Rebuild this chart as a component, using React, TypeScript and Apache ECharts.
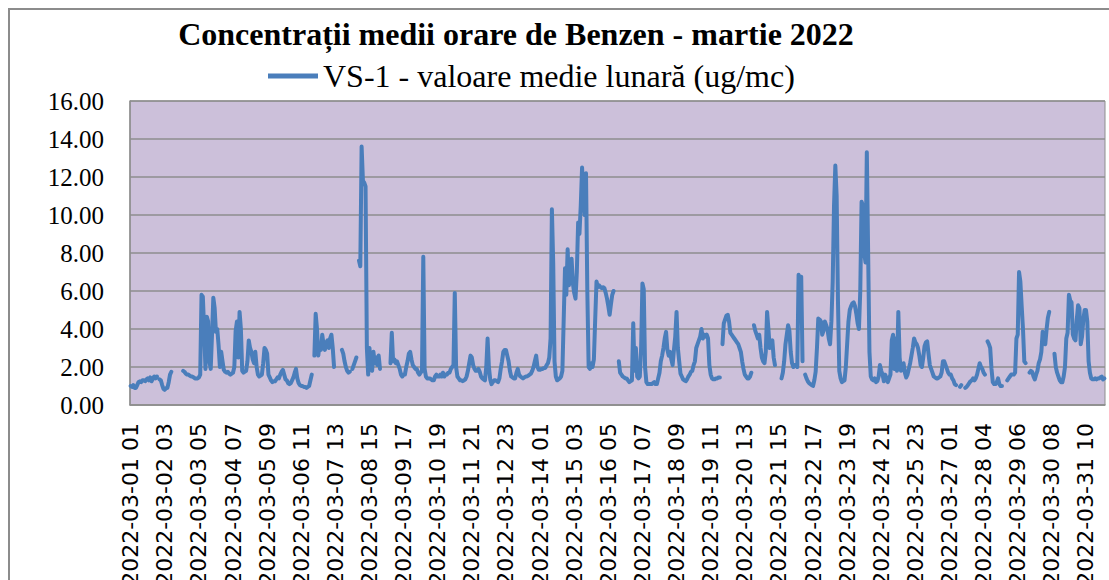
import React, { useEffect, useRef } from "react";
import * as echarts from "echarts";

const TITLE = "Concentrații medii orare de Benzen - martie 2022";
const SERIES_NAME = "VS-1 - valoare medie lunară (ug/mc)";

// Hourly values (ug/mc), 2022-03-01 01 .. 2022-04-01 00 (03-27 03 skipped, DST)
const week1: (number | null)[] = [
  1.0, 0.95, 1.05, 0.9, 0.9, 1.05, 1.2, 1.25, 1.2, 1.3, 1.3, 1.25, 1.35, 1.4, 1.3, 1.45, 1.25, 1.4, 1.5, 1.4, 1.5,
  null, 1.35, 1.3,
  1.05, 0.85, 0.8, 0.88, 0.9, 1.2, 1.6, 1.75,
  null, null, null, null, null, null, null, null,
  1.8, 1.75, 1.65, 1.6, 1.6, 1.55, 1.5, 1.5, 1.45, 1.4, 1.4, 1.4, 1.45, 1.6,
  5.8, 5.7, 4.0, 1.9, 4.65, 4.4, 2.3, 1.9, 3.7, 5.65, 5.1, 3.85, 4.0, 3.15, 2.0, 2.8, 2.3, 1.85, 1.75, 1.7, 1.75,
  1.65, 1.6, 1.65, 1.7, 2.0, 3.9, 4.4, 2.5, 4.9, 4.0, 1.8, 1.7, 1.75, 1.8, 2.3, 3.4, 3.0, 2.8, 2.4, 2.2, 2.8, 2.0, 1.6, 1.5, 1.55,
  1.6, 2.2, 3.0, 2.9, 2.7, 1.6, 1.45, 1.3, 1.2, 1.25, 1.25, 1.35, 1.45, 1.4, 1.6, 1.75, 1.85, 1.6, 1.35, 1.3,
  1.15, 1.1, 1.15, 1.3, 1.45, 1.7, 1.9, 1.4, 1.15, 1.05, 1.0, 1.0, 0.95, 0.95, 0.9, 0.95, 1.0, 1.3, 1.6,
  null,
  2.6, 4.8, 4.0, 2.6, 3.2, 2.9, 3.7, 3.2, 2.9, 3.3, 3.4, 3.0, 3.5, 3.7, 3.0, 2.0,
  null, null, null, null, null,
  2.9, 2.7, 2.3, 2.0, 1.8, 1.7, 1.75,
];

const week2: (number | null)[] = [
  null, 1.9, 2.1, 2.3, 2.5, null,
  7.6, 7.3, 13.6, 11.8, 11.7, 11.5,
  3.0, 1.6, 3.0, 2.0, 1.8, 2.8, 2.2, 2.5, 2.1, 2.6, 1.9,
  null, null, null, null, null, null, null,
  2.2, 3.8, 2.3, 2.4, 2.2, 2.3, 2.1, 1.9, 1.6, 1.5, 1.6, 1.6, 2.0, 2.3, 2.7, 2.8, 2.4, 2.1, 2.0, 1.9,
  1.9, 1.7, 1.6, 1.7, 1.8, 7.8, 1.9, 1.5, 1.4, 1.4, 1.4, 1.35, 1.3, 1.3, 1.5, 1.6, 1.5, 1.5, 1.6, 1.5,
  1.7, 1.5, 1.6, 1.6, 1.7, 1.7, 1.9, 2.0, 2.1, 5.9, 2.0, 1.5, 1.4, 1.3, 1.3, 1.25, 1.3, 1.35, 1.5, 1.8,
  2.2, 2.6, 2.5, 2.1, 1.9, 1.8, 1.8,
  1.9, 1.75, 1.5, 1.4, 1.35, 1.3, 2.0, 3.5, 2.0, 1.35, 1.1, 1.2, 1.3, 1.3, 1.25, 1.2, 1.4, 1.9, 2.3, 2.8,
  2.9, 2.9, 2.6, 2.3, 1.8, 1.5, 1.45, 1.4, 1.4, 1.7, 1.9, 1.6, 1.5, 1.45, 1.4, 1.45, 1.5, 1.5, 1.55, 1.6,
  1.65, 1.8, 2.0, 2.3, 2.6, 2.0, 1.85, 1.85, 1.9, 1.9, 1.95, 1.95, 2.1, 2.2, 2.5, 3.5, 10.3, 7.5, 2.3, 1.5,
  1.3, 1.35, 1.4, 1.5, 1.8, 4.5, 7.2, 5.8, 8.2, 6.3, 7.0,
];

const week3: (number | null)[] = [
  7.7, 6.4, 5.9, 5.6, 7.0, 9.6, 9.0, 10.5, 12.5, 11.0, 10.0, 12.2, 6.0, 2.0, 1.9, 2.2, 2.0, 2.4, 4.5, 6.5,
  6.2, 6.3, 6.2, 6.15, 6.2,
  6.15, 5.9, 5.6, 5.2, 4.75, 5.3, 5.8, 6.0, null, null, null, 2.3, 1.7, 1.6, 1.5, 1.45, 1.4, 1.4, 1.3, 1.2,
  1.25, 1.3, 4.3, 1.8, 3.0, 1.5, 1.4, 1.5, 3.0, 6.4, 6.1, 2.0, 1.2, 1.1, 1.1, 1.1, 1.1, 1.15, 1.2, 1.1,
  1.1, 1.4, 1.7, 2.3, 2.6, 3.0, 3.5, 3.85, 2.9, 2.6, 2.8, 2.4, 2.1, 2.9, 3.6, 4.9, 3.0, 2.3, 1.65, 1.5,
  1.35, 1.3, 1.25, 1.35, 1.5, 1.6, 1.75, 1.8, 2.1, 2.3, 3.0, 3.2, 3.4, 3.6, 4.0, 3.5, 3.7, 3.6, 3.7, 3.5,
  2.1, 1.6, 1.4, 1.35, 1.35, 1.4, 1.4, 1.45, 1.45, null, 3.2, 4.3, 4.5, 4.7, 4.75, 4.4,
  3.8, 3.7, 3.6, 3.5, 3.4, 3.3, 3.2, 3.0, 2.8, 2.3, 1.9, 1.6, 1.5, 1.4, 1.4, 1.5, 1.7, null,
  4.2, 3.9, 3.7, 3.5, 3.7, 3.0, 2.5, 2.3, 2.2, 2.8, 4.9, 4.0, 3.0, 3.3, 3.4, 2.5, 2.1,
  null, null, null, null,
  1.4, 1.7, 2.3, 3.2, 3.7, 4.2, 3.9, 2.8,
];

const week4: (number | null)[] = [
  2.2, 2.0, 2.1, 2.1, 2.0, 6.85, 6.7, 6.75, 2.3, null,
  1.6, 1.4, 1.25, 1.15, 1.1, 1.05, 1.0, 1.3, 1.75, 3.0, 4.55, 4.5, 4.4, 3.7, 3.9, 4.4, 4.2, 4.0, 3.5, 3.2,
  4.4, 6.5, 10.5, 12.6, 11.0, 5.5, 1.8, 1.4, 1.2, 1.25, 1.3, 2.0, 3.2, 4.4, 5.0, 5.2, 5.35,
  5.4, 5.2, 4.8, 4.3, 4.0, 6.0, 10.7, 10.5, 8.0, 7.5, 13.3, 8.0, 2.8, 1.5, 1.35, 1.3, 1.4, 1.2, 1.25, 1.5,
  2.1, 1.8, 1.6, 1.25, 1.6, 1.4, 1.2, 1.4, 1.6, 3.4, 3.7, 1.9, 3.5, 1.8, 4.9, 2.5, 1.8, 1.9, 2.2, 1.7,
  1.45, 1.6, 1.9, 2.2, 2.6, 3.0, 3.5, 3.3, 3.2, 3.0, 2.6, 2.1, 2.0, 2.5, 3.1, 3.3, 3.35, 2.7, 2.1, 1.9,
  1.7, 1.5, 1.45, 1.4, 1.4, 1.45, 1.5, 1.7, 2.3, 2.3, 2.1, 1.9, 1.7, 1.6, 1.6, 1.4, 1.3, 1.1, 1.05, null,
  null, 0.95, 1.05, null, null, 0.9, 0.95, 1.05, 1.15, 1.25, 1.3, 1.4, 1.3, 1.4, 1.6, 1.9,
  2.2, 2.0, 1.9, 1.7, 1.6, null, 3.35, 3.2, 3.0, 1.9, 1.2, 1.1, 1.1, 1.2, 1.4, 1.1, 1.0, 1.0,
  null, null, null, 1.3, 1.4, 1.5, 1.6,
];

const week5: (number | null)[] = [
  1.6, 1.6, 1.7, 3.5, 3.7, 7.0, 6.5, 5.2, 4.0, 2.3, 2.2, null, null,
  1.7, 1.8, 1.75, 1.5, 1.35, 1.6, 1.8, 2.2, 2.4, 2.8, 3.85, 3.5, 3.2, 4.0, 4.6, 4.9, null, null, null,
  2.7, 2.0, 1.7, 1.5, 1.3, 1.2, 1.2, 1.5, 2.0, 3.5, 3.8, 5.8, 5.5, 5.4, 3.7, 3.5, 3.4, 4.5, 5.25, 5.1,
  3.2, 3.6, 4.5, 5.0, 5.0, 4.4, 2.3, 1.7, 1.4, 1.35, 1.35, 1.4, 1.35, 1.4, 1.4, 1.45, 1.5, 1.35, 1.4,
];

const values = [...week1, ...week2, ...week3, ...week4, ...week5];

// Category labels: hourly timestamps (hour 03 of 2022-03-27 does not exist)
const categories: string[] = [];
{
  const start = Date.UTC(2022, 2, 1, 1);
  const p = (n: number) => String(n).padStart(2, "0");
  for (let k = 0; categories.length < values.length; k++) {
    const d = new Date(start + k * 3600000);
    const mon = d.getUTCMonth() + 1;
    const day = d.getUTCDate();
    const hr = d.getUTCHours();
    if (mon === 3 && day === 27 && hr === 3) continue;
    categories.push(`2022-${p(mon)}-${p(day)} ${p(hr)}`);
  }
}

const Y_MIN = 0;
const Y_MAX = 16;
const Y_STEP = 2;

export default function App() {
  const ref = useRef<HTMLDivElement>(null);
  useEffect(() => {
    document.body.style.margin = "0";
    if (!ref.current) return;
    const chart = echarts.init(ref.current, undefined, { renderer: "svg" });
    chart.setOption({
      animation: false,
      backgroundColor: "#ffffff",
      title: {
        text: TITLE,
        left: 511,
        top: 13,
        textAlign: "center",
        textStyle: {
          fontFamily: "Liberation Serif",
          fontWeight: "bold",
          fontSize: 32,
          color: "#000000",
        },
      },
      legend: {
        left: 263,
        top: 55,
        itemWidth: 50,
        itemHeight: 5,
        icon: "rect",
        data: [SERIES_NAME],
        textStyle: { fontFamily: "Liberation Serif", fontSize: 32, color: "#000000" },
      },
      grid: {
        left: 130,
        right: 4,
        top: 101,
        bottom: 175,
        outerBoundsMode: "none",
        containLabel: false,
        show: true,
        backgroundColor: "#CCC0DA",
        borderColor: "#8E8E8E",
        borderWidth: 1,
      },
      xAxis: {
        type: "category",
        data: categories,
        boundaryGap: true,
        axisLine: { lineStyle: { color: "#8E8E8E", width: 1.5 } },
        axisTick: { show: false },
        axisLabel: {
          interval: 25,
          rotate: 90,
          fontFamily: "DejaVu Sans",
          fontSize: 22,
          color: "#000000",
          margin: 18,
        },
      },
      yAxis: {
        type: "value",
        min: Y_MIN,
        max: Y_MAX,
        interval: Y_STEP,
        axisLine: { show: true, lineStyle: { color: "#8E8E8E", width: 1.5 } },
        axisTick: { show: false },
        axisLabel: {
          formatter: (v: number) => v.toFixed(2),
          fontFamily: "Liberation Serif",
          fontSize: 25,
          color: "#000000",
          margin: 26,
        },
        splitLine: { lineStyle: { color: "#8E8E8E", width: 1.5 } },
      },
      series: [
        {
          type: "line",
          name: SERIES_NAME,
          data: values,
          showSymbol: false,
          connectNulls: false,
          lineStyle: { color: "#4A7EBB", width: 4, join: "round", cap: "round" },
          itemStyle: { color: "#4A7EBB" },
        },
      ],
      graphic: [
        {
          type: "rect",
          silent: true,
          z: 100,
          shape: { x: 9, y: 9, width: 1200, height: 700 },
          style: { fill: "none", stroke: "#8C8C8C", lineWidth: 2 },
        },
      ],
    });
    return () => chart.dispose();
  }, []);
  return <div ref={ref} style={{ width: 1109, height: 580 }} />;
}
